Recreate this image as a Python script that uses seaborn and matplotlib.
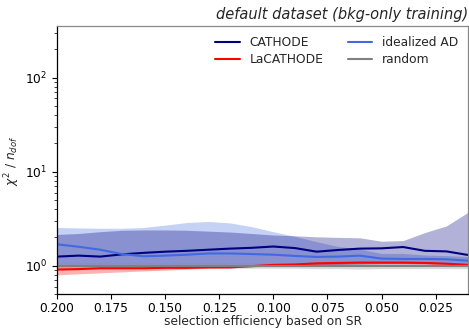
import numpy as np
import pandas as pd
import matplotlib
matplotlib.use("Agg")
import matplotlib.pyplot as plt
import seaborn as sns
from matplotlib.lines import Line2D

# selection efficiency (x)
eff = [0.20, 0.19, 0.18, 0.17, 0.16, 0.15, 0.14, 0.13, 0.12, 0.11,
       0.10, 0.09, 0.08, 0.07, 0.06, 0.05, 0.04, 0.03, 0.02, 0.01]

cathode_mean = [1.25, 1.28, 1.25, 1.32, 1.37, 1.41, 1.44, 1.48, 1.52, 1.55,
                1.60, 1.54, 1.41, 1.47, 1.52, 1.53, 1.58, 1.44, 1.42, 1.30]
cathode_lo = [1.00, 1.00, 1.00, 1.00, 1.00, 1.00, 1.00, 1.00, 1.00, 1.00,
              1.00, 1.00, 1.02, 1.03, 1.04, 1.05, 1.05, 1.05, 1.05, 1.05]
cathode_hi = [2.15, 2.20, 2.30, 2.38, 2.40, 2.40, 2.38, 2.33, 2.28, 2.20,
              2.12, 2.08, 2.03, 2.00, 1.98, 1.82, 1.85, 2.25, 2.65, 3.70]

lacathode_mean = [0.91, 0.92, 0.94, 0.94, 0.94, 0.95, 0.95, 0.96, 0.96, 0.99,
                  1.02, 1.03, 1.06, 1.07, 1.08, 1.08, 1.08, 1.07, 1.05, 1.02]
lacathode_lo = [0.80, 0.82, 0.84, 0.86, 0.88, 0.90, 0.92, 0.94, 0.95, 0.97,
                1.00, 1.01, 1.03, 1.04, 1.05, 1.05, 1.05, 1.04, 1.02, 0.99]
lacathode_hi = [1.00, 1.00, 1.00, 1.00, 1.00, 1.00, 1.00, 1.00, 1.00, 1.01,
                1.04, 1.05, 1.08, 1.09, 1.10, 1.10, 1.10, 1.10, 1.08, 1.05]

ideal_mean = [1.69, 1.59, 1.48, 1.33, 1.26, 1.28, 1.31, 1.35, 1.35, 1.33,
              1.31, 1.27, 1.24, 1.25, 1.28, 1.19, 1.18, 1.18, 1.17, 1.13]
ideal_lo = [1.05, 1.05, 1.05, 1.05, 1.05, 1.05, 1.05, 1.05, 1.05, 1.05,
            1.05, 1.05, 1.05, 1.05, 1.05, 1.05, 1.05, 1.05, 1.05, 1.05]
ideal_hi = [2.55, 2.52, 2.50, 2.50, 2.55, 2.70, 2.88, 2.95, 2.85, 2.60,
            2.30, 2.05, 1.80, 1.60, 1.50, 1.35, 1.35, 1.30, 1.28, 1.25]

random_mean = [1.00, 1.00, 1.00, 1.00, 1.00, 1.00, 1.00, 1.00, 1.00, 1.00,
               1.00, 1.00, 1.00, 1.00, 1.00, 1.00, 1.00, 1.00, 1.00, 1.00]
random_lo = [0.94, 0.94, 0.94, 0.94, 0.94, 0.94, 0.94, 0.94, 0.94, 0.94,
             0.94, 0.94, 0.93, 0.93, 0.92, 0.93, 0.93, 0.93, 0.93, 0.93]
random_hi = [1.06, 1.06, 1.06, 1.06, 1.06, 1.06, 1.06, 1.06, 1.06, 1.06,
             1.06, 1.06, 1.06, 1.06, 1.06, 1.06, 1.06, 1.06, 1.06, 1.06]

labels = ["CATHODE", "LaCATHODE", "idealized AD", "random"]
colors = {"CATHODE": "navy", "LaCATHODE": "red",
          "idealized AD": "royalblue", "random": "gray"}

series = {
    "CATHODE": (cathode_mean, cathode_lo, cathode_hi),
    "LaCATHODE": (lacathode_mean, lacathode_lo, lacathode_hi),
    "idealized AD": (ideal_mean, ideal_lo, ideal_hi),
    "random": (random_mean, random_lo, random_hi),
}

rows = []
for name in labels:
    m, lo, hi = series[name]
    for x, a, b, c in zip(eff, m, lo, hi):
        rows.append(dict(eff=x, method=name, mean=a, lo=b, hi=c))
df = pd.DataFrame(rows)

sns.set_style("ticks")
plt.rcParams["font.family"] = ["DejaVu Sans"]

fig = plt.figure(figsize=(4.69, 3.30), dpi=100)
ax = fig.add_axes([0.1215, 0.109, 0.8765, 0.811])

# bands
for name in ["random", "idealized AD", "CATHODE", "LaCATHODE"]:
    d = df[df.method == name]
    ax.fill_between(d["eff"], d["lo"], d["hi"], color=colors[name],
                    alpha=0.3, linewidth=0)

sns.lineplot(data=df, x="eff", y="mean", hue="method", hue_order=labels,
             palette=colors, ax=ax, linewidth=1.5, legend=False)

ax.set_yscale("log")
ax.set_ylim(0.5, 350)
ax.set_xlim(0.2, 0.01)
ax.set_xticks([0.2, 0.175, 0.15, 0.125, 0.1, 0.075, 0.05, 0.025])
ax.set_xticklabels(["0.200", "0.175", "0.150", "0.125", "0.100",
                    "0.075", "0.050", "0.025"])

handles = [Line2D([], [], color=colors[n], lw=1.5) for n in labels]
ax.legend(handles, labels, ncol=2, loc="upper right", frameon=False,
          fontsize=8.8, handlelength=2.0, columnspacing=2.0,
          borderaxespad=0.4, labelspacing=0.35)

ax.set_xlabel("selection efficiency based on SR", fontsize=8.8, labelpad=0.5)
ax.set_ylabel(r"$\chi^2$ / $n_{dof}$", fontsize=8.8, labelpad=2)
ax.set_title("default dataset (bkg-only training)", loc="right",
             fontstyle="italic", fontsize=10.5, pad=5)
ax.tick_params(axis="both", labelsize=8.8, direction="out", length=3.5,
               width=0.8, colors="black")
ax.tick_params(axis="x", pad=2)
ax.tick_params(axis="y", which="minor", length=2, width=0.6)
for s in ["left", "bottom"]:
    ax.spines[s].set_color("black")
    ax.spines[s].set_linewidth(0.9)
for s in ["top", "right"]:
    ax.spines[s].set_visible(True)
    ax.spines[s].set_color("#888888")
    ax.spines[s].set_linewidth(0.9)

fig.savefig("out.png", dpi=100)
